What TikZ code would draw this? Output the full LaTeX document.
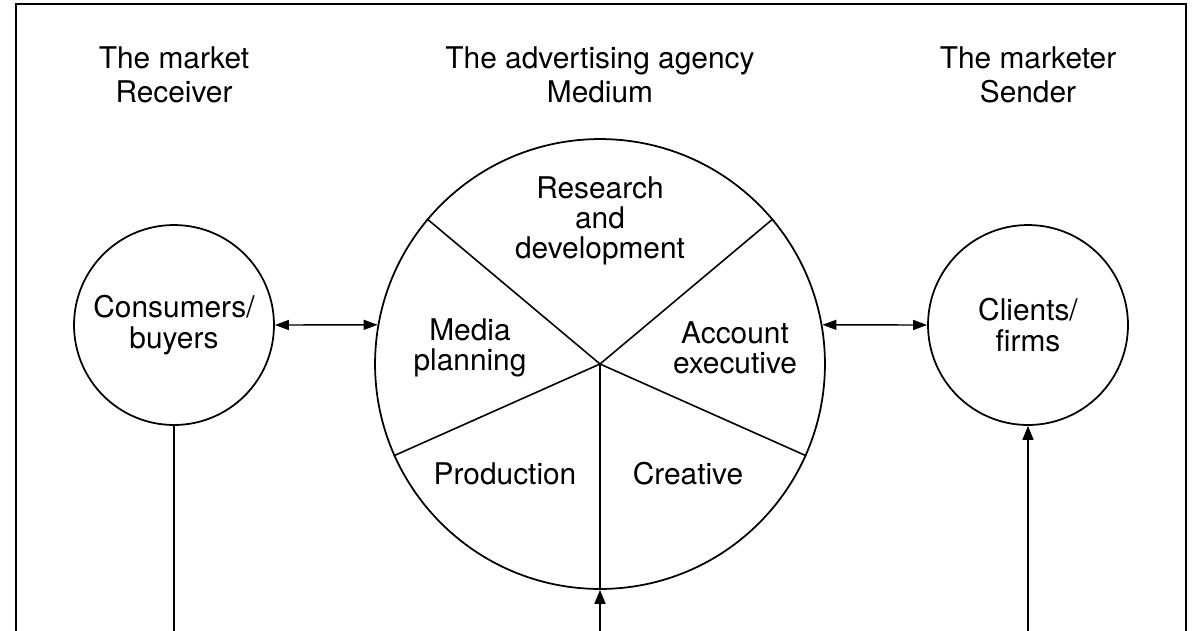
\documentclass[tikz,border=0pt]{standalone}
\usepackage{fontspec}
\setmainfont{TeX Gyre Heros}
\usetikzlibrary{arrows.meta,positioning,calc}
\definecolor{ink}{HTML}{000000}
\tikzset{
  party/.style={circle, draw=ink, line width=1pt, minimum size=4cm, inner sep=0pt,
    align=center, font=\fontsize{17}{17.5}\selectfont, text=ink},
  hub/.style={circle, draw=ink, line width=1pt, minimum size=9cm, inner sep=0pt},
  role/.style={align=center, font=\fontsize{17}{19}\selectfont, text=ink},
  dept/.style={align=center, font=\fontsize{17}{17}\selectfont, text=ink},
  spoke/.style={line width=0.9pt, color=ink},
  link/.style={{Triangle[length=0.28cm,width=0.2cm]}-{Triangle[length=0.28cm,width=0.2cm]},
    line width=0.8pt, color=ink},
  feed/.style={-{Triangle[length=0.28cm,width=0.22cm]}, line width=0.8pt, color=ink},
}
\begin{document}
\begin{tikzpicture}[x=0.02cm,y=-0.02cm]
  \useasboundingbox (0,0) rectangle (1200,630);
  % open frame
  \draw[line width=1pt, ink] (16,640) -- (16,4) -- (1186,4) -- (1186,640);
  % the three parties
  \node[hub] (agency) at (600,364) {};
  \node[party] (cons) at (174,325) {Consumers/\\buyers};
  \node[party] (clients) at (1028,325) {Clients/\\firms};
  \node[role] (market) at (174,75) {The market\\Receiver};
  \node[role] (medium) at (600,75) {The advertising agency\\Medium};
  \node[role] (sender) at (1028,75) {The marketer\\Sender};
  % departments of the agency
  \foreach \a in {40,140,204,270,336} {
    \draw[spoke] (agency.center) -- (agency.\a);
  }
  \node[dept] (rd) at (600,221) {Research\\and\\development};
  \node[dept] (media) at (470,348) {Media\\planning};
  \node[dept] (account) at (735,348) {Account\\executive};
  \node[dept] (prod) at (505,474) {Production};
  \node[dept] (creative) at (688,474) {Creative};
  % links between the parties
  \draw[link] (cons.east) -- (agency.170);
  \draw[link] (agency.10) -- (clients.west);
  \coordinate (consfoot) at (174,640);
  \coordinate (agencyfoot) at (600,640);
  \coordinate (clientsfoot) at (1028,640);
  \draw[spoke, line width=0.8pt] (cons.south) -- (consfoot);
  \draw[feed] (agencyfoot) -- (agency.south);
  \draw[feed] (clientsfoot) -- (clients.south);
\end{tikzpicture}
\end{document}
